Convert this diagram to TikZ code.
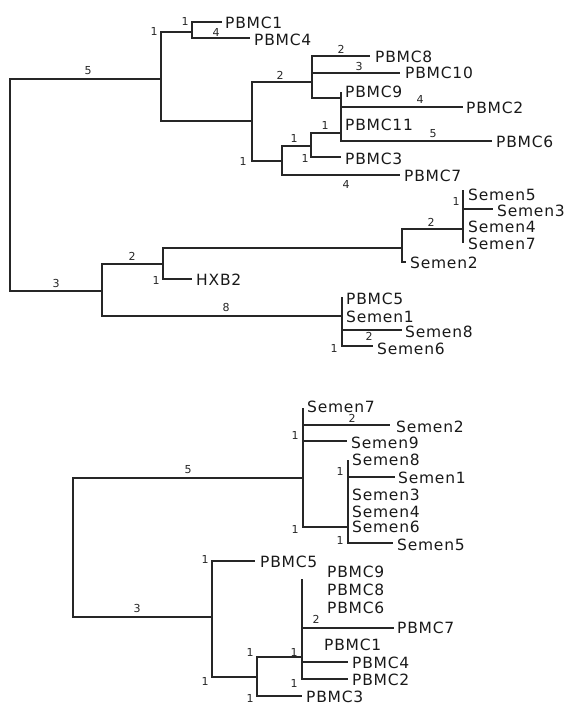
\documentclass[tikz,border=0pt]{standalone}
\usepackage{fontspec}
\newfontfamily\tipfam[LetterSpace=5]{DejaVu Sans}
\newfontfamily\blfam{DejaVu Sans}
\begin{document}
\begin{tikzpicture}[x=1pt,y=-1pt,
  br/.style={line width=1.2pt,draw=black!85},
  tip/.style={anchor=west,inner sep=0pt,font={\tipfam\fontsize{15.5}{16}\selectfont},text=black!90},
  bl/.style={inner sep=0pt,font={\blfam\fontsize{11}{12}\selectfont},text=black!85}]
\useasboundingbox (0,0) rectangle (565,705);
% ---------- top tree ----------
\coordinate (r1) at (10,185);
\coordinate (a) at (161,79);
\coordinate (b) at (192,32);
\coordinate (t1) at (222,22);
\coordinate (t4) at (250,38);
\coordinate (c) at (252,121);
\coordinate (d) at (312,82);
\coordinate (t8) at (370,56);
\coordinate (t10) at (400,73);
\coordinate (d9) at (341,98);
\coordinate (e) at (282,161);
\coordinate (g) at (311,146);
\coordinate (f) at (341,133);
\coordinate (t9) at (341,92);
\coordinate (t2) at (463,107);
\coordinate (t11) at (341,125);
\coordinate (t6) at (492,141);
\coordinate (t3) at (341,157);
\coordinate (t7) at (400,175);
\coordinate (k) at (102,291);
\coordinate (j) at (163,264);
\coordinate (h) at (402,248);
\coordinate (i) at (463,229);
\coordinate (s5) at (463,190);
\coordinate (s3) at (493,209);
\coordinate (s4) at (463,227);
\coordinate (s7) at (463,243);
\coordinate (s2) at (406,262);
\coordinate (hx) at (192,279);
\coordinate (l) at (342,316);
\coordinate (p5) at (342,297);
\coordinate (s1) at (342,317);
\coordinate (s8) at (402,330);
\coordinate (s6) at (373,346);
\draw[br] (r1) |- (a);
\draw[br] (r1) |- (k);
\draw[br] (a) |- (b);
\draw[br] (a) |- (c);
\draw[br] (b) |- (t1);
\draw[br] (b) |- (t4);
\draw[br] (c) |- (d);
\draw[br] (c) |- (e);
\draw[br] (d) |- (t8);
\draw[br] (d) |- (t10);
\draw[br] (d) |- (d9);
\draw[br] (e) |- (g);
\draw[br] (e) |- (t7);
\draw[br] (g) |- (f);
\draw[br] (g) |- (t3);
\draw[br] (f) |- (t9);
\draw[br] (f) |- (t2);
\draw[br] (f) |- (t11);
\draw[br] (f) |- (t6);
\draw[br] (k) |- (j);
\draw[br] (k) |- (l);
\draw[br] (j) |- (h);
\draw[br] (j) |- (hx);
\draw[br] (h) |- (i);
\draw[br] (h) |- (s2);
\draw[br] (i) |- (s5);
\draw[br] (i) |- (s3);
\draw[br] (i) |- (s4);
\draw[br] (i) |- (s7);
\draw[br] (l) |- (p5);
\draw[br] (l) |- (s1);
\draw[br] (l) |- (s8);
\draw[br] (l) |- (s6);
% tip labels
\node[tip] (n1) at (225,23) {PBMC1};
\node[tip] (n4) at (254,40) {PBMC4};
\node[tip] (n8) at (375,57) {PBMC8};
\node[tip] (n10) at (405,73) {PBMC10};
\node[tip] (n9) at (345,92) {PBMC9};
\node[tip] (n2) at (466,108) {PBMC2};
\node[tip] (n11) at (345,125) {PBMC11};
\node[tip] (n6) at (496,142) {PBMC6};
\node[tip] (n3) at (345,159) {PBMC3};
\node[tip] (n7) at (404,176) {PBMC7};
\node[tip] (m5) at (468,195) {Semen5};
\node[tip] (m3) at (497,211) {Semen3};
\node[tip] (m4) at (468,227) {Semen4};
\node[tip] (m7) at (468,244) {Semen7};
\node[tip] (m2) at (410,263) {Semen2};
\node[tip] (nhx) at (196,280) {HXB2};
\node[tip] (np5) at (346,299) {PBMC5};
\node[tip] (m1) at (346,317) {Semen1};
\node[tip] (m8) at (405,332) {Semen8};
\node[tip] (m6) at (377,349) {Semen6};
% branch labels
\node[bl] (l01) at (88,71) {5};
\node[bl] (l02) at (56,283) {3};
\node[bl] (l03) at (154,31) {1};
\node[bl] (l04) at (185,21) {1};
\node[bl] (l05) at (216,32) {4};
\node[bl] (l06) at (280,75) {2};
\node[bl] (l07) at (243,161) {1};
\node[bl] (l08) at (341,49) {2};
\node[bl] (l09) at (359,66) {3};
\node[bl] (l10) at (420,99) {4};
\node[bl] (l11) at (433,134) {5};
\node[bl] (l12) at (325,125) {1};
\node[bl] (l13) at (294,138) {1};
\node[bl] (l14) at (305,158) {1};
\node[bl] (l15) at (346,184) {4};
\node[bl] (l16) at (132,256) {2};
\node[bl] (l17) at (156,280) {1};
\node[bl] (l18) at (431,222) {2};
\node[bl] (l19) at (456,201) {1};
\node[bl] (l20) at (226,307) {8};
\node[bl] (l21) at (369,336) {2};
\node[bl] (l22) at (334,348) {1};
% ---------- bottom tree ----------
\coordinate (r2) at (73,550);
\coordinate (m) at (303,478);
\coordinate (bs7) at (303,408);
\coordinate (bs2) at (390,425);
\coordinate (bs9) at (347,441);
\coordinate (n) at (348,527);
\coordinate (bs8) at (348,460);
\coordinate (bs1) at (395,477);
\coordinate (bs5) at (393,543);
\coordinate (o) at (212,617);
\coordinate (bp5) at (255,561);
\coordinate (p) at (257,677);
\coordinate (q) at (302,657);
\coordinate (qtop) at (302,579);
\coordinate (bp7) at (394,628);
\coordinate (bp4) at (348,662);
\coordinate (bp2) at (348,679);
\coordinate (bp3) at (302,696);
\draw[br] (r2) |- (m);
\draw[br] (r2) |- (o);
\draw[br] (m) |- (bs7);
\draw[br] (m) |- (bs2);
\draw[br] (m) |- (bs9);
\draw[br] (m) |- (n);
\draw[br] (n) |- (bs8);
\draw[br] (n) |- (bs1);
\draw[br] (n) |- (bs5);
\draw[br] (o) |- (bp5);
\draw[br] (o) |- (p);
\draw[br] (p) |- (q);
\draw[br] (p) |- (bp3);
\draw[br] (q) |- (qtop);
\draw[br] (q) |- (bp7);
\draw[br] (q) |- (bp4);
\draw[br] (q) |- (bp2);
\node[tip] (k7) at (307,407) {Semen7};
\node[tip] (k2) at (396,427) {Semen2};
\node[tip] (k9) at (351,443) {Semen9};
\node[tip] (k8) at (352,460) {Semen8};
\node[tip] (k1) at (398,478) {Semen1};
\node[tip] (k3) at (352,495) {Semen3};
\node[tip] (k4) at (352,512) {Semen4};
\node[tip] (k6) at (352,527) {Semen6};
\node[tip] (k5) at (397,545) {Semen5};
\node[tip] (q5) at (260,562) {PBMC5};
\node[tip] (q9) at (327,572) {PBMC9};
\node[tip] (q8) at (327,590) {PBMC8};
\node[tip] (q6) at (327,608) {PBMC6};
\node[tip] (q7) at (397,628) {PBMC7};
\node[tip] (q1) at (324,645) {PBMC1};
\node[tip] (q4) at (352,663) {PBMC4};
\node[tip] (q2) at (352,680) {PBMC2};
\node[tip] (q3) at (306,697) {PBMC3};
\node[bl] (b01) at (188,470) {5};
\node[bl] (b02) at (137,608) {3};
\node[bl] (b03) at (295,435) {1};
\node[bl] (b04) at (352,418) {2};
\node[bl] (b05) at (295,529) {1};
\node[bl] (b06) at (340,471) {1};
\node[bl] (b07) at (340,540) {1};
\node[bl] (b08) at (205,559) {1};
\node[bl] (b09) at (205,681) {1};
\node[bl] (b10) at (250,652) {1};
\node[bl] (b11) at (250,698) {1};
\node[bl] (b12) at (294,652) {1};
\node[bl] (b13) at (294,683) {1};
\node[bl] (b14) at (316,619) {2};
\end{tikzpicture}
\end{document}
